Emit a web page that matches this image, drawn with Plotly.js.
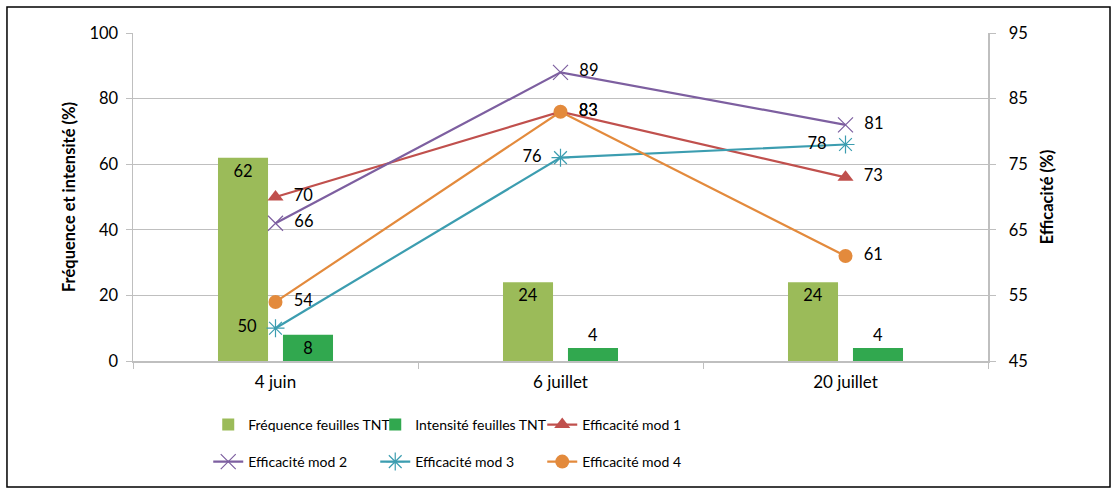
<!DOCTYPE html>
<html>
<head>
<meta charset="utf-8">
<script src="https://cdn.plot.ly/plotly-3.0.1.min.js"></script>
<style>html,body{margin:0;padding:0;background:#fff;}#chart{width:1117px;height:495px;}</style>
</head>
<body>
<div id="chart"></div>
<script>
const categories = ["4 juin", "6 juillet", "20 juillet"];
const frequence = [62, 24, 24];
const intensite = [8, 4, 4];
const mod1 = [70, 83, 73];
const mod2 = [66, 89, 81];
const mod3 = [50, 76, 78];
const mod4 = [54, 83, 61];

const FONT = "Lato, 'Open Sans', sans-serif";
const NB = '\u00A0\u00A0';
const lbl = v => v.map(String);
const rightLbl = v => v.map(n => NB + n);
const leftLbl = v => v.map(n => n + NB);

const traces = [
  {type:'bar', name:'Fréquence feuilles TNT', x:categories, y:frequence, marker:{color:'#9BBB59'},
   text:lbl(frequence), textposition:'inside', insidetextanchor:'end', insidetextfont:{color:'#000', size:16.5, family:FONT},
   textangle:0, constraintext:'none', legend:'legend', cliponaxis:false},
  {type:'bar', name:'Intensité feuilles TNT', x:categories, y:intensite, marker:{color:'#31A84F'},
   text:lbl(intensite), textposition:['inside','outside','outside'], insidetextanchor:'end',
   insidetextfont:{color:'#000', size:16.5, family:FONT}, outsidetextfont:{color:'#000', size:16.5, family:FONT},
   textangle:0, constraintext:'none', legend:'legend', cliponaxis:false},
  {type:'scatter', mode:'lines+markers+text', name:'Efficacité mod 1', x:categories, y:mod1, yaxis:'y2',
   line:{color:'#C0504D', width:2.2}, marker:{symbol:'triangle-up', size:14, color:'#C0504D'},
   text:rightLbl(mod1), textposition:'middle right', textfont:{size:16.5, color:'#000', family:FONT}, legend:'legend', cliponaxis:false},
  {type:'scatter', mode:'lines+markers+text', name:'Efficacité mod 2', x:categories, y:mod2, yaxis:'y2',
   line:{color:'#7D5FA0', width:2.2}, marker:{symbol:'x-thin', size:15, line:{color:'#7D5FA0', width:1.2}},
   text:rightLbl(mod2), textposition:'middle right', textfont:{size:16.5, color:'#000', family:FONT}, legend:'legend2', cliponaxis:false},
  {type:'scatter', mode:'lines+markers+text', name:'Efficacité mod 3', x:categories, y:mod3, yaxis:'y2',
   line:{color:'#3C9DB0', width:2.2}, marker:{symbol:'asterisk-open', size:15, line:{color:'#3C9DB0', width:1.2}},
   text:leftLbl(mod3), textposition:'middle left', textfont:{size:16.5, color:'#000', family:FONT}, legend:'legend2', cliponaxis:false},
  {type:'scatter', mode:'lines+markers+text', name:'Efficacité mod 4', x:categories, y:mod4, yaxis:'y2',
   line:{color:'#E38A3C', width:2.2}, marker:{symbol:'circle', size:14, color:'#E38A3C'},
   text:rightLbl(mod4), textposition:'middle right', textfont:{size:16.5, color:'#000', family:FONT}, legend:'legend2', cliponaxis:false}
];

const legendBase = {orientation:'h', xanchor:'left', yanchor:'middle', x:0.088, entrywidth:122, entrywidthmode:'pixels',
  font:{family:FONT, size:14, color:'#000'}, bgcolor:'rgba(0,0,0,0)', itemwidth:30, traceorder:'normal'};

const layout = {
  width:1117, height:495,
  margin:{l:133, r:129, t:33, b:134},
  paper_bgcolor:'#fff', plot_bgcolor:'#fff',
  font:{family:FONT, size:16, color:'#000'},
  barmode:'group', bargap:0.544, bargroupgap:0.23,
  showlegend:true,
  legend:Object.assign({}, legendBase, {y:-0.195}),
  legend2:Object.assign({}, legendBase, {y:-0.308}),
  xaxis:{type:'category', showgrid:false, showline:true, linecolor:'#BFBFBF', linewidth:1.5,
    ticks:'outside', tickson:'boundaries', ticklen:6, tickcolor:'#BFBFBF', tickfont:{size:17}, zeroline:false,
    ticklabelstandoff:5},
  yaxis:{range:[0,100], dtick:20, tick0:0, showgrid:true, gridcolor:'#BFBFBF', gridwidth:1.2,
    showline:true, linecolor:'#BFBFBF', linewidth:1.5, ticks:'outside', ticklen:6, tickcolor:'#BFBFBF',
    tickfont:{size:16.5}, zeroline:false, ticklabelstandoff:4,
    title:{text:'<b>Fréquence et intensité (%)</b>', font:{size:16.5}, standoff:9}},
  yaxis2:{range:[45,95], dtick:10, tick0:45, overlaying:'y', side:'right', showgrid:false,
    showline:true, linecolor:'#BFBFBF', linewidth:1.5, ticks:'outside', ticklen:6, tickcolor:'#BFBFBF',
    tickfont:{size:16.5}, zeroline:false, ticklabelstandoff:10,
    title:{text:'<b>Efficacité (%)</b>', font:{size:16.5}, standoff:14}},
  shapes:[{type:'rect', xref:'paper', yref:'paper', x0:-0.1474, x1:1.1427, y0:-0.384, y1:1.0793,
    line:{color:'#000', width:1.5}, fillcolor:'rgba(0,0,0,0)', layer:'below'}]
};

Plotly.newPlot('chart', traces, layout, {displayModeBar:false, staticPlot:true});
</script>
</body>
</html>
